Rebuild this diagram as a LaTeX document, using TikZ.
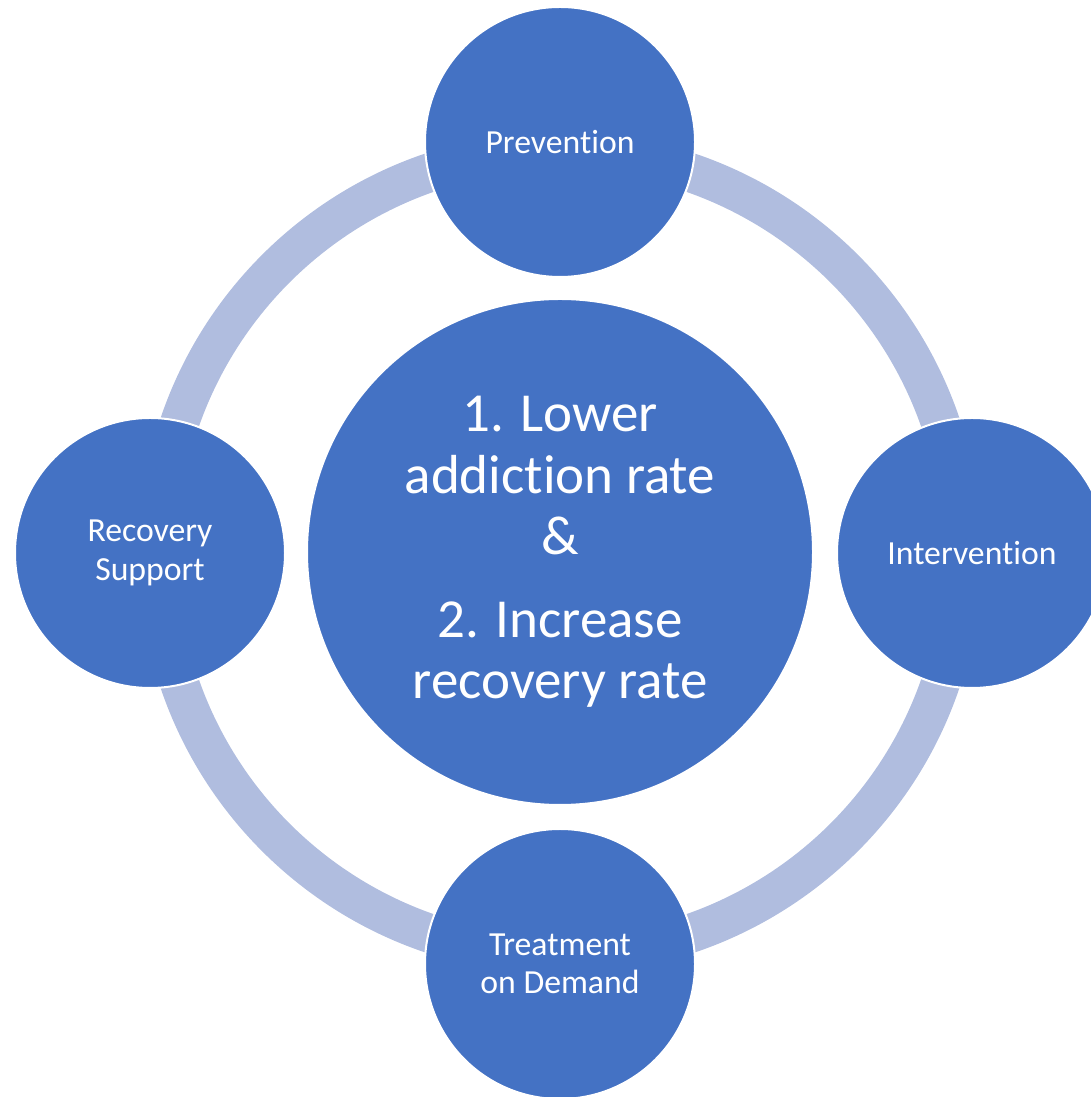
\documentclass[tikz,border=0pt]{standalone}
\usepackage{fontspec}
\setmainfont{Carlito}[Ligatures = NoCommon]
\usetikzlibrary{calc}
\definecolor{cycle blue}{HTML}{4472C4}
\definecolor{cycle ring}{HTML}{B0BDDF}

\begin{document}
\begin{tikzpicture}[x = 1pt, y = 1pt,
    stagenode/.style = {circle, fill = cycle blue, draw = white, line width = 2pt,
      minimum size = 270pt, inner sep = 0pt, text = white, align = center,
      font = \fontsize{33.7}{38.5}\selectfont},
    goalnode/.style = {stagenode, minimum size = 506pt,
      font = \fontsize{55}{61.5}\selectfont},
    ringline/.style = {cycle ring, line width = 39pt}]
      \useasboundingbox (0, 0) rectangle (1091, 1097);
      \clip (0, 0) rectangle (1091, 1097);

      \coordinate (hub) at (560, 544);
      \draw[ringline] (hub) circle[radius = 402];

      \node[goalnode] (goal) at (560, 545) {1. Lower\\addiction rate\\\&\\[21pt]2. Increase\\recovery rate};

      \node[stagenode] (prevention) at (560, 955) {Prevention};
      \node[stagenode] (intervention) at (972, 544) {Intervention};
      \node[stagenode] (treatment) at (560, 133) {Treatment\\on Demand};
      \node[stagenode] (recovery) at (150, 544) {Recovery\\Support};
    \end{tikzpicture}
\end{document}
